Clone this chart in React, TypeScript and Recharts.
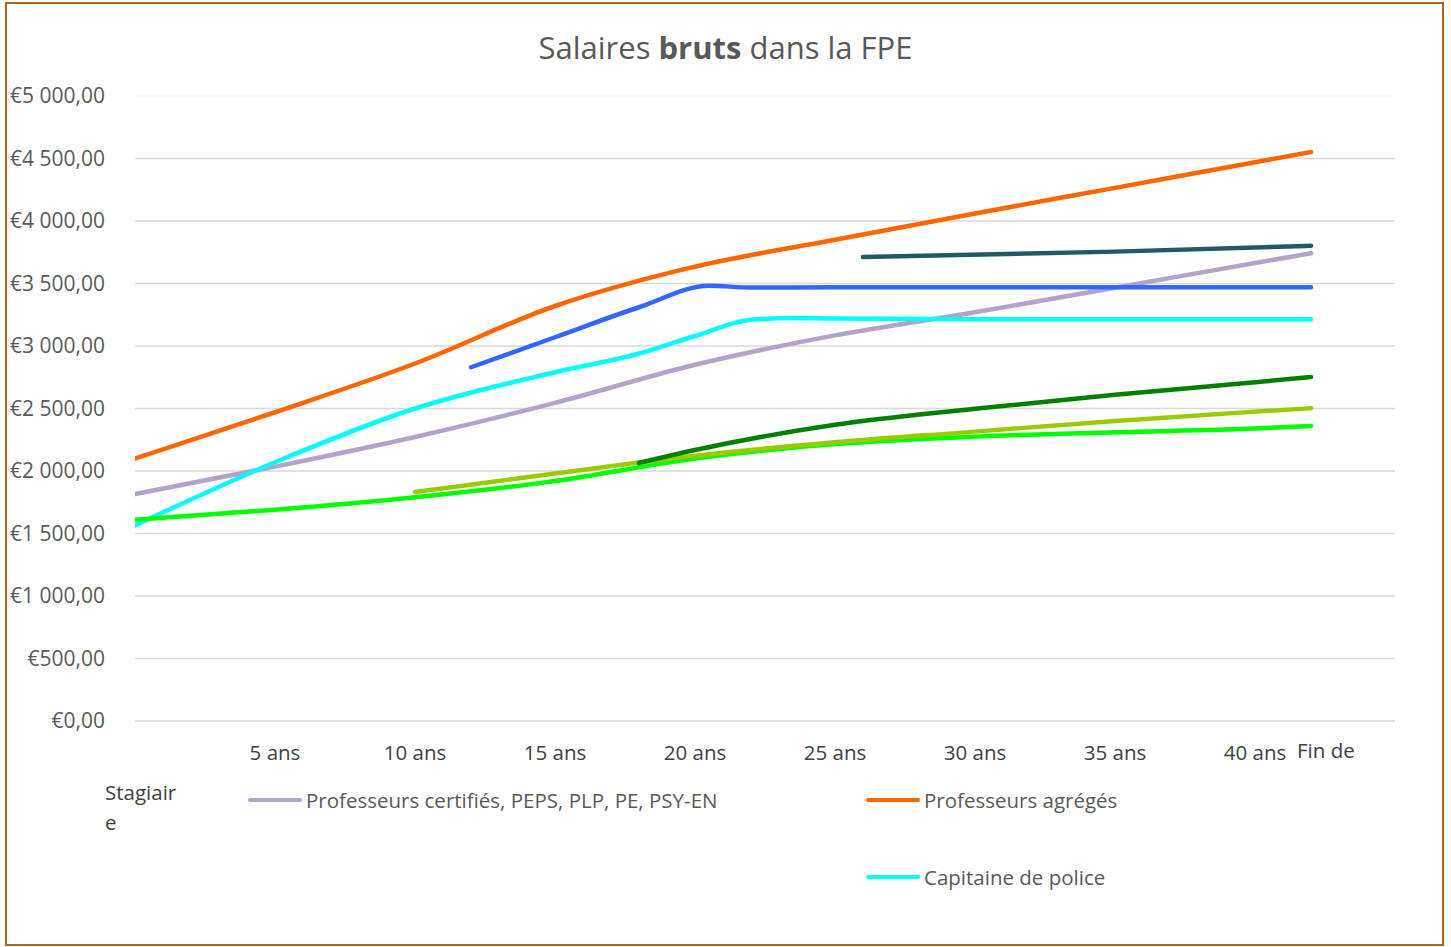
import React from 'react';
import { LineChart, Line, XAxis, YAxis, ReferenceLine } from 'recharts';

// ---- data ----
const xTicks = [0, 5, 10, 15, 20, 25, 30, 35, 40, 42];
const xTickLabels = ['Stagiaire', '5 ans', '10 ans', '15 ans', '20 ans', '25 ans', '30 ans', '35 ans', '40 ans', 'Fin de'];
const yTicks = [0, 500, 1000, 1500, 2000, 2500, 3000, 3500, 4000, 4500, 5000];

const certifies = [
  { x: 0, v: 1815 }, { x: 5, v: 2035 }, { x: 10, v: 2272 }, { x: 15, v: 2545 }, { x: 20, v: 2850 },
  { x: 25, v: 3085 }, { x: 30, v: 3270 }, { x: 35, v: 3466 }, { x: 40, v: 3664 }, { x: 42, v: 3742 },
];
const agreges = [
  { x: 0, v: 2100 }, { x: 5, v: 2470 }, { x: 10, v: 2860 }, { x: 15, v: 3320 }, { x: 20, v: 3635 },
  { x: 25, v: 3850 }, { x: 30, v: 4060 }, { x: 35, v: 4265 }, { x: 40, v: 4470 }, { x: 42, v: 4552 },
];
const police = [
  { x: 0, v: 1565 }, { x: 5, v: 2070 }, { x: 10, v: 2500 }, { x: 15, v: 2790 }, { x: 18, v: 2940 },
  { x: 20, v: 3080 }, { x: 22, v: 3210 }, { x: 23.5, v: 3225 }, { x: 25, v: 3220 }, { x: 30, v: 3215 },
  { x: 35, v: 3215 }, { x: 40, v: 3215 }, { x: 42, v: 3215 },
];
const bleu = [
  { x: 12, v: 2830 }, { x: 15, v: 3070 }, { x: 18, v: 3310 }, { x: 20.5, v: 3482 }, { x: 22, v: 3468 },
  { x: 25, v: 3470 }, { x: 30, v: 3470 }, { x: 35, v: 3470 }, { x: 40, v: 3470 }, { x: 42, v: 3470 },
];
const ardoise = [{ x: 26, v: 3712 }, { x: 35, v: 3755 }, { x: 42, v: 3802 }];
const vertVif = [
  { x: 0, v: 1610 }, { x: 5, v: 1690 }, { x: 10, v: 1790 }, { x: 15, v: 1920 }, { x: 20, v: 2100 },
  { x: 25, v: 2215 }, { x: 30, v: 2275 }, { x: 35, v: 2310 }, { x: 40, v: 2340 }, { x: 42, v: 2360 },
];
const jauneVert = [
  { x: 10, v: 1832 }, { x: 15, v: 1980 }, { x: 20, v: 2122 }, { x: 25, v: 2230 }, { x: 30, v: 2315 },
  { x: 35, v: 2400 }, { x: 40, v: 2475 }, { x: 42, v: 2502 },
];
const vertFonce = [
  { x: 18, v: 2065 }, { x: 20, v: 2168 }, { x: 25, v: 2370 }, { x: 30, v: 2498 }, { x: 35, v: 2610 },
  { x: 40, v: 2710 }, { x: 42, v: 2752 },
];

const series = [
  { name: 'Professeurs certifiés, PEPS, PLP, PE, PSY-EN', data: certifies, color: '#b3a2c9' },
  { name: 'Professeurs agrégés', data: agreges, color: '#ff6600' },
  { name: 'Capitaine de police', data: police, color: '#00ffff' },
  { name: 'Série 4', data: bleu, color: '#3366ff' },
  { name: 'Série 5', data: ardoise, color: '#215968' },
  { name: 'Série 6', data: vertVif, color: '#00ff00' },
  { name: 'Série 7', data: jauneVert, color: '#99cc00' },
  { name: 'Série 8', data: vertFonce, color: '#008000' },
];
const legendSeries = series.slice(0, 3);

const FONT = '"Open Sans", "Noto Sans", sans-serif';

const formatEuro = (v: number) => {
  const s = v >= 1000 ? `${Math.floor(v / 1000)} ${String(v % 1000).padStart(3, '0')}` : String(v);
  return `€${s},00`;
};

const XTick = (props: any) => {
  const { x, y, payload } = props;
  const idx = xTicks.indexOf(payload.value);
  const label = xTickLabels[idx] ?? '';
  const style = { fontFamily: FONT, fontSize: 20.5, fill: '#404040' };
  if (idx === 0) {
    const first = label.slice(0, label.length - 1);
    const last = label.slice(label.length - 1);
    return (
      <text x={x - 30} y={y + 71} textAnchor="start" {...style} dominantBaseline="central">
        <tspan x={x - 30} dy={0}>{first}</tspan>
        <tspan x={x - 30} dy={30}>{last}</tspan>
      </text>
    );
  }
  if (idx === xTicks.length - 1) {
    return (
      <text x={x - 14} y={y + 29} textAnchor="start" {...style} dominantBaseline="central">{label}</text>
    );
  }
  return (
    <text x={x} y={y + 31} textAnchor="middle" {...style} dominantBaseline="central">{label}</text>
  );
};

export default function App() {
  return (
    <div style={{ position: 'absolute', left: 0, top: 0, width: 1451, height: 947, background: '#fff', fontFamily: FONT }}>
      <div style={{ position: 'absolute', left: 5, top: 2, width: 1435, height: 940, border: '2px solid #b5611c' }} />
      <div style={{ position: 'absolute', left: 0, top: 27, width: 1451, textAlign: 'center', fontSize: 31, lineHeight: '40px', color: '#595959' }}>
        Salaires <b>bruts</b> dans la FPE
      </div>
      <div style={{ position: 'absolute', left: 0, top: 0 }}>
        <LineChart width={1451} height={947} data={certifies} margin={{ top: 96, right: 56, bottom: 186, left: 0 }}>
          <XAxis
            dataKey="x"
            type="number"
            domain={[0, 45]}
            ticks={xTicks}
            interval={0}
            tickLine={false}
            axisLine={false}
            tickSize={0}
            tickMargin={0}
            height={40}
            tick={<XTick />}
            allowDataOverflow
          />
          <YAxis
            type="number"
            domain={[0, 5000]}
            ticks={yTicks}
            interval={0}
            width={135}
            tickLine={false}
            axisLine={false}
            tickSize={0}
            tickMargin={30}
            tickFormatter={formatEuro}
            tick={{ fill: '#595959', fontSize: 21, fontFamily: FONT }}
          />
          {yTicks.map((t) => (
            <ReferenceLine key={t} y={t} stroke={t === 5000 ? '#f8f8f8' : '#d9d9d9'} strokeWidth={1.5} ifOverflow="extendDomain" />
          ))}
          {series.map((s) => (
            <Line
              key={s.name}
              data={s.data}
              dataKey="v"
              name={s.name}
              type="monotone"
              stroke={s.color}
              strokeWidth={4.5}
              strokeLinecap="round"
              dot={false}
              activeDot={false}
              isAnimationActive={false}
            />
          ))}
        </LineChart>
      </div>
      {legendSeries.map((s, i) => {
        const pos = [
          { lx: 248, y: 800 },
          { lx: 866, y: 800 },
          { lx: 866, y: 877 },
        ][i];
        return (
          <div key={s.name} style={{ position: 'absolute', left: pos.lx, top: pos.y - 15, height: 30, display: 'flex', alignItems: 'center' }}>
            <span style={{ display: 'inline-block', width: 54, height: 4.5, borderRadius: 3, background: s.color }} />
            <span style={{ marginLeft: 4, fontSize: 20.5, color: '#595959', whiteSpace: 'nowrap' }}>{s.name}</span>
          </div>
        );
      })}
    </div>
  );
}
